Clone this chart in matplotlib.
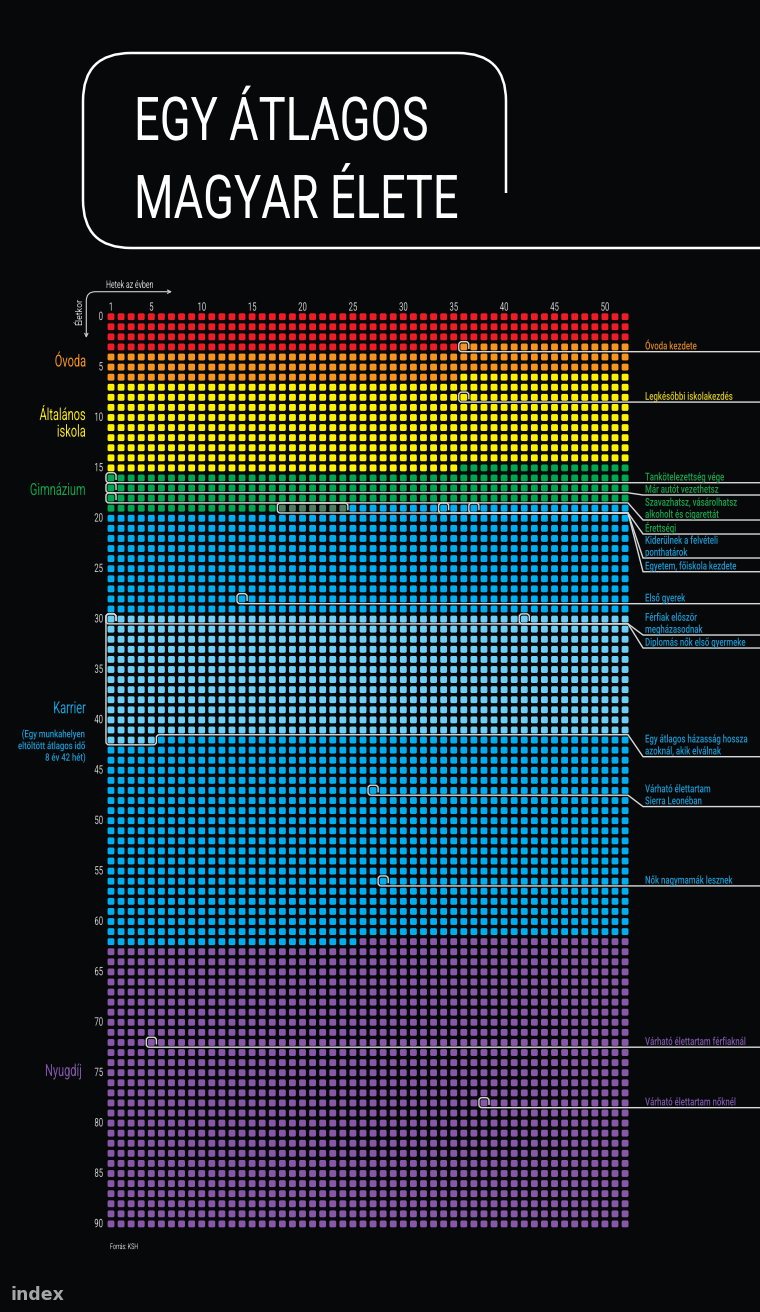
import numpy as np
import matplotlib
matplotlib.use('Agg')
import matplotlib.pyplot as plt
from matplotlib import patheffects
from matplotlib.collections import PatchCollection
from matplotlib.patches import FancyBboxPatch, PathPatch, FancyArrowPatch
from matplotlib.path import Path
from matplotlib.transforms import Affine2D

plt.rcParams['font.family'] = ['Roboto', 'DejaVu Sans']

# life stages: colour blocks start at (age, week of year)
stage_names = ['Csecsemő', 'Óvoda', 'Általános iskola', 'Gimnázium',
               'Felvételi', 'Egyetem, karrier', 'Házasság', 'Karrier', 'Nyugdíj']
stage_age = [0, 3, 6, 15, 19, 19, 30, 42, 62]
stage_week = [1, 36, 36, 36, 18, 25, 1, 6, 26]
stage_colors = ['#ee1c25', '#f7941d', '#fff200', '#00a651', '#4f7c5c',
                '#00aeef', '#6dcff6', '#00aeef', '#8757a8']

ages = np.arange(0, 91)
weeks = np.arange(1, 53)
week_ticks = [1, 5, 10, 15, 20, 25, 30, 35, 40, 45, 50]
age_ticks = list(range(0, 91, 5))

# marked weeks of life
event_labels = [
    'Óvoda kezdete',
    'Legkésőbbi iskolakezdés',
    'Tankötelezettség vége',
    'Már autót vezethetsz',
    'Szavazhatsz, vásárolhatsz\nalkoholt és cigarettát',
    'Érettségi',
    'Kiderülnek a felvételi\nponthatárok',
    'Egyetem, főiskola kezdete',
    'Első gyerek',
    'Férfiak először\nmegházasodnak',
    'Diplomás nők első gyermeke',
    'Várható élettartam\nSierra Leonéban',
    'Nők nagymamák lesznek',
    'Várható élettartam férfiaknál',
    'Várható élettartam nőknél',
]
event_age = [3, 8, 16, 17, 18, 19, 19, 19, 28, 30, 30, 47, 56, 72, 78]
event_week_from = [36, 36, 1, 1, 1, 18, 34, 37, 14, 42, 1, 27, 28, 5, 38]
event_week_to = [36, 36, 1, 1, 1, 24, 34, 37, 14, 42, 1, 27, 28, 5, 38]

# marriage span (from, to) as (age, week)
span_label = 'Egy átlagos házasság hossza\nazoknál, akik elválnak'
span_from = (30, 1)
span_to = (42, 5)

section_labels = ['Óvoda', 'Általános', 'iskola', 'Gimnázium', 'Karrier', 'Nyugdíj']
career_note = ['(Egy munkahelyen', 'eltöltött átlagos idő', '8 év 42 hét)']

# ---- layout / style ----
PX = 10.08                      # pixels per cell
X0 = 1 - 111 / PX
X1 = X0 + 760 / PX
Y0 = -316.7 / PX
Y1 = Y0 + 1312 / PX
KNEE1, KNEE2, LABEL_X = 52.29, 53.78, 53.98
BG = '#07080a'
LINE = '#d9d9d9'
TICK = '#cfcfcf'
ORANGE_T, YELLOW_T, GREEN_T = '#d9841f', '#d8c81c', '#17a34c'
BLUE_T, PURPLE_T = '#1b98cf', '#7b57a8'

label_line = [3.47, 8.47, 16.47, 17.69, 20.17, 21.56, 23.94, 25.3, 28.47,
              31.58, 32.87, 48.6, 56.47, 72.47, 78.47]
label_color = [ORANGE_T, YELLOW_T, GREEN_T, GREEN_T, GREEN_T, GREEN_T, BLUE_T,
               BLUE_T, BLUE_T, BLUE_T, BLUE_T, BLUE_T, BLUE_T, PURPLE_T, PURPLE_T]
span_line = 43.65
section_base = [4.94, 10.25, 11.9, 17.69, 39.34, 75.33]      # baselines
section_x = [-1.48, -1.48, -1.48, -1.48, -1.48, -1.9]
section_color = ['#f7941d', '#f7e61a', '#f7e61a', '#109e4a', '#17a0d8', '#8356aa']
note_base = [41.73, 42.9, 44.05]


class Tall(patheffects.AbstractPathEffect):
    """Stretch glyphs upward from the baseline: a condensed face from a regular one."""

    def __init__(self, sy):
        super().__init__()
        self.sy = sy

    def draw_path(self, renderer, gc, tpath, affine, rgbFace=None):
        renderer.draw_path(gc, tpath, Affine2D().scale(1, self.sy) + affine, rgbFace)


def text(axis, x, y, s, size, sx=0.66, **kw):
    # width as a (size * sx) font, height as a (size) font
    t = axis.text(x, y, s, fontsize=size * sx, va='baseline', **kw)
    t.set_path_effects([Tall(1 / sx)])
    return t


def rounded_path(points, radius):
    pts = [np.asarray(p, float) for p in points]
    verts, codes = [pts[0]], [Path.MOVETO]
    for i in range(1, len(pts) - 1):
        r = radius[i - 1]
        if r == 0:
            verts.append(pts[i])
            codes.append(Path.LINETO)
            continue
        a = pts[i - 1] - pts[i]
        b = pts[i + 1] - pts[i]
        verts += [pts[i] + a / np.hypot(*a) * r, pts[i], pts[i] + b / np.hypot(*b) * r]
        codes += [Path.LINETO, Path.CURVE3, Path.CURVE3]
    verts.append(pts[-1])
    codes.append(Path.LINETO)
    return Path(verts, codes)


def tail(y, target):
    if abs(y - target) < 0.01:
        return [(X1, y)], []
    return [(KNEE1, y), (KNEE2, target), (X1, target)], [0, 0]


fig = plt.figure(figsize=(7.6, 13.12), dpi=100, facecolor=BG)
ax = fig.add_axes([0, 0, 1, 1])
ax.set_facecolor(BG)
ax.set_xlim(X0, X1)
ax.set_ylim(Y1, Y0)
ax.axis('off')

# grid of weeks
starts = np.array(stage_age) * 52 + np.array(stage_week) - 1
S, R = 0.68, 0.15
cells, colors = [], []
for a in ages:
    for w in weeks:
        k = np.searchsorted(starts, a * 52 + w - 1, side='right') - 1
        cells.append(FancyBboxPatch((w - S / 2, a - S / 2), S, S,
                                    boxstyle=f'round,pad=0,rounding_size={R}'))
        colors.append(stage_colors[k])
ax.add_collection(PatchCollection(cells, facecolors=colors, edgecolors='none'))

# tick labels
for w in week_ticks:
    text(ax, w, -0.6, str(w), 8.4, ha='center', color=TICK)
for a in age_ticks:
    text(ax, 0.2, a + 0.33, str(a), 8.4, ha='right', color=TICK)

# event brackets + labels
for lab, a, w0, w1, ly, col in zip(event_labels, event_age, event_week_from,
                                    event_week_to, label_line, label_color):
    top, low = a - 0.52, a + 0.47
    pts = [(w1 + 0.5, a + 0.2), (w1 + 0.5, top), (w0 - 0.5, top), (w0 - 0.5, low)]
    more, rads = tail(low, ly)
    ax.add_patch(PathPatch(rounded_path(pts + more, [0.3, 0.3, 0.3] + rads),
                           fill=False, edgecolor=LINE, lw=1.0, zorder=3))
    lines = lab.split('\n')
    for i, s in enumerate(lines):
        text(ax, LABEL_X, ly - 0.22 - 1.19 * (len(lines) - 1 - i), s, 7.9, sx=0.71,
             ha='left', color=col, fontweight='medium')

# marriage span
(a0, w0), (a1, w1) = span_from, span_to
pts = [(w0 + 0.5, a0 + 0.2), (w0 + 0.5, a0 - 0.52), (w0 - 0.5, a0 - 0.52),
       (w0 - 0.5, a1 + 0.47), (w1 + 0.5, a1 + 0.47), (w1 + 0.5, a1 - 0.53)]
more, rads = tail(a1 - 0.53, span_line)
ax.add_patch(PathPatch(rounded_path(pts + more, [0.3] * 5 + rads),
                       fill=False, edgecolor=LINE, lw=1.0, zorder=3))
lines = span_label.split('\n')
for i, s in enumerate(lines):
    text(ax, LABEL_X, span_line - 0.22 - 1.19 * (len(lines) - 1 - i), s, 7.9, sx=0.71,
         ha='left', color=BLUE_T, fontweight='medium')

# section names on the left
for s, x, y, c in zip(section_labels, section_x, section_base, section_color):
    text(ax, x, y, s, 12, ha='right', color=c)
for s, y in zip(career_note, note_base):
    text(ax, -1.48, y, s, 7.4, sx=0.75, ha='right', color='#1a9bd3',
         fontweight='medium')

# axis captions
text(ax, 2.88, -2.85, 'Hetek az évben', 7.6, ha='center', color=TICK)
ax.text(-2.1, -0.56, 'Életkor', rotation=90, ha='center', va='center',
        fontsize=6.3, color=TICK)
arrow = rounded_path([(-1.45, 2.1), (-1.45, -2.48), (7.05, -2.48)], [0.9])
ax.add_patch(FancyArrowPatch(path=arrow, arrowstyle='<->', mutation_scale=6,
                             lw=0.8, color=TICK))
text(ax, 0.9, 92.5, 'Forrás: KSH', 5.8, ha='left', color=TICK)

# title block in pixel space
deco = fig.add_axes([0, 0, 1, 1], facecolor='none')
deco.set_xlim(0, 760)
deco.set_ylim(1312, 0)
deco.axis('off')
box = rounded_path([(506, 193), (506, 53), (83, 53), (83, 248), (760, 248)], [48, 48, 48])
deco.add_patch(PathPatch(box, fill=False, edgecolor='white', lw=1.8))
text(deco, 134, 140, 'EGY ÁTLAGOS', 43.5, sx=0.75, ha='left', color='white')
text(deco, 134, 218, 'MAGYAR ÉLETE', 43.5, sx=0.75, ha='left', color='white')
deco.text(10, 1295, 'index', ha='left', va='center', fontsize=12.5,
          fontweight='bold', family='DejaVu Sans', color='#a6a6a6')

fig.savefig('out.png', dpi=100, facecolor=BG)
